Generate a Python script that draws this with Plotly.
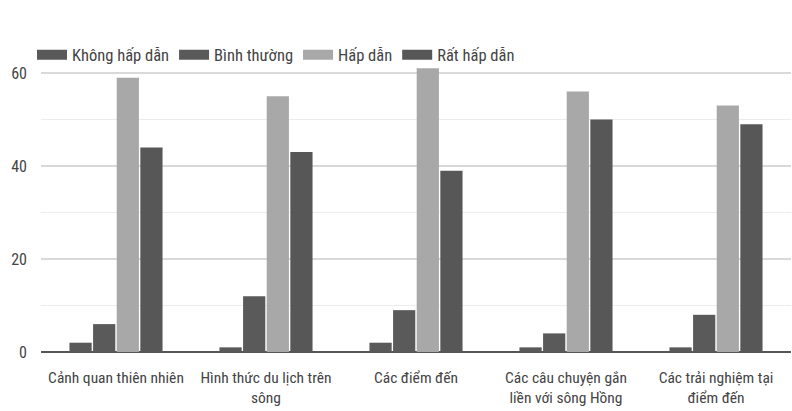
import plotly.graph_objects as go

categories = [
    "Cảnh quan thiên nhiên",
    "Hình thức du lịch trên<br>sông",
    "Các điểm đến",
    "Các câu chuyện gắn<br>liền với sông Hồng",
    "Các trải nghiệm tại<br>điểm đến",
]
series_names = ["Không hấp dẫn", "Bình thường", "Hấp dẫn", "Rất hấp dẫn"]
khong_hap_dan = [2, 1, 2, 1, 1]
binh_thuong = [6, 12, 9, 4, 8]
hap_dan = [59, 55, 61, 56, 53]
rat_hap_dan = [44, 43, 39, 50, 49]
colors = ["#595959", "#5a5a5a", "#a8a8a8", "#575757"]
y_ticks = [0, 20, 40, 60]

FONT = "Roboto Condensed, Liberation Sans Narrow, sans-serif"
TXT = "#444444"

fig = go.Figure()
for name, vals, col in zip(series_names, [khong_hap_dan, binh_thuong, hap_dan, rat_hap_dan], colors):
    fig.add_trace(go.Bar(
        x=categories, y=vals, name=name, showlegend=False,
        marker=dict(color=col, line=dict(width=0)),
    ))
# legend entries drawn as wide swatches
for name, col in zip(series_names, colors):
    fig.add_trace(go.Scatter(
        x=[None], y=[None], name=name, mode="lines",
        line=dict(color=col, width=15),
    ))

fig.update_layout(
    width=792, height=411,
    margin=dict(l=41, r=1, t=66, b=59),
    paper_bgcolor="white", plot_bgcolor="white",
    barmode="group", bargap=0.37, bargroupgap=0.06,
    font=dict(family=FONT, size=15.5, color=TXT),
    showlegend=True,
    legend=dict(
        orientation="h",
        x=-0.012, xanchor="left", y=1.038, yanchor="middle",
        font=dict(family=FONT, size=16.5, color=TXT),
        itemwidth=30, traceorder="normal",
        bgcolor="rgba(0,0,0,0)",
    ),
    xaxis=dict(
        showgrid=False, showline=False, ticks="", tickangle=0,
        ticklabelstandoff=14,
        tickfont=dict(family=FONT, size=15.5, color=TXT),
    ),
    yaxis=dict(
        range=[0, 61.5], tickvals=y_ticks, ticktext=[str(v) for v in y_ticks],
        showgrid=True, gridcolor="#d9d9d9", gridwidth=1.5,
        zeroline=True, zerolinecolor="#555555", zerolinewidth=2,
        showline=False, ticks="", ticklen=0,
        ticklabelstandoff=13,
        minor=dict(tickvals=[10, 30, 50], showgrid=True, gridcolor="#ececec", gridwidth=1),
        tickfont=dict(family=FONT, size=16, color=TXT),
    ),
)

fig.write_html(
    "out.html",
    config={"displayModeBar": False},
    post_script="document.body.style.margin='0';",
)
